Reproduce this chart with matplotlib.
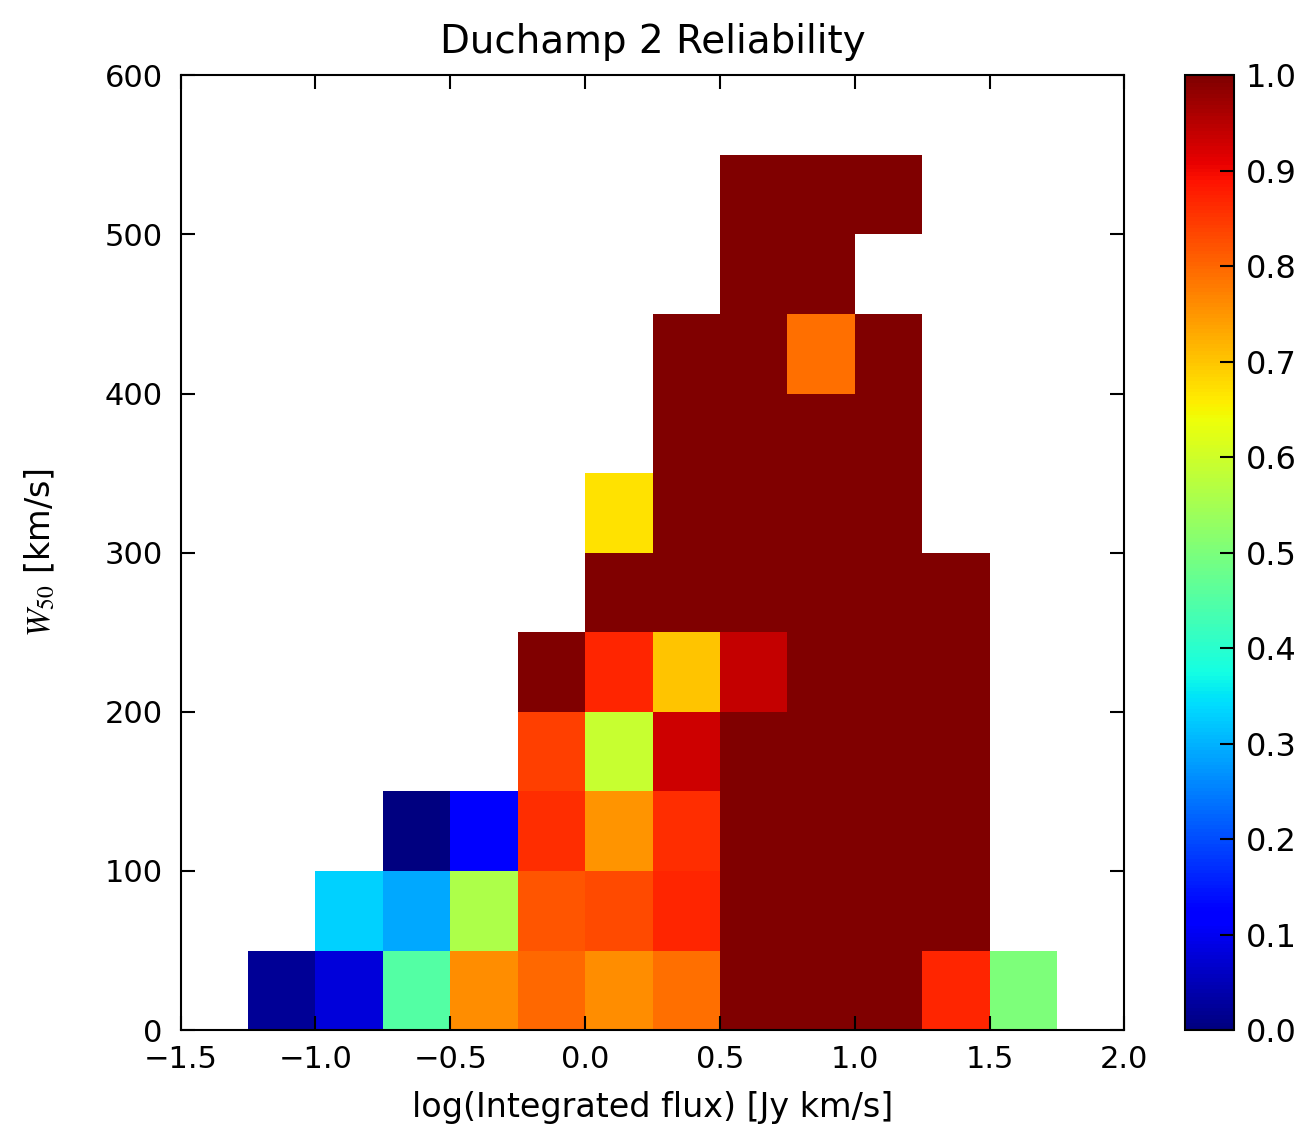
import numpy as np
import matplotlib
matplotlib.use("Agg")
import matplotlib.pyplot as plt

plt.rcParams['font.family'] = ['DejaVu Sans']
plt.rcParams['mathtext.fontset'] = 'stix'

x_edges = np.arange(-1.5, 2.0001, 0.25)   # 14 columns
y_edges = np.arange(0, 600.001, 50)       # 12 rows

nan = np.nan
# reliability per row (bottom to top), columns from x=-1.5 to 2.0
row_0_50    = [nan, 0.02, 0.08, 0.45, 0.76, 0.80, 0.76, 0.79, 1.0, 1.0, 1.0, 0.87, 0.50, nan]
row_50_100  = [nan, nan, 0.33, 0.29, 0.56, 0.82, 0.83, 0.87, 1.0, 1.0, 1.0, 1.0, nan, nan]
row_100_150 = [nan, nan, nan, 0.00, 0.11, 0.86, 0.75, 0.86, 1.0, 1.0, 1.0, 1.0, nan, nan]
row_150_200 = [nan, nan, nan, nan, nan, 0.84, 0.59, 0.93, 1.0, 1.0, 1.0, 1.0, nan, nan]
row_200_250 = [nan, nan, nan, nan, nan, 1.0, 0.87, 0.70, 0.94, 1.0, 1.0, 1.0, nan, nan]
row_250_300 = [nan, nan, nan, nan, nan, nan, 1.0, 1.0, 1.0, 1.0, 1.0, 1.0, nan, nan]
row_300_350 = [nan, nan, nan, nan, nan, nan, 0.67, 1.0, 1.0, 1.0, 1.0, nan, nan, nan]
row_350_400 = [nan, nan, nan, nan, nan, nan, nan, 1.0, 1.0, 1.0, 1.0, nan, nan, nan]
row_400_450 = [nan, nan, nan, nan, nan, nan, nan, 1.0, 1.0, 0.79, 1.0, nan, nan, nan]
row_450_500 = [nan, nan, nan, nan, nan, nan, nan, nan, 1.0, 1.0, nan, nan, nan, nan]
row_500_550 = [nan, nan, nan, nan, nan, nan, nan, nan, 1.0, 1.0, 1.0, nan, nan, nan]
row_550_600 = [nan] * 14

grid = np.array([row_0_50, row_50_100, row_100_150, row_150_200, row_200_250,
                 row_250_300, row_300_350, row_350_400, row_400_450, row_450_500,
                 row_500_550, row_550_600])
grid = np.ma.masked_invalid(grid)

fig = plt.figure(figsize=(13.09, 11.42), dpi=100)
ax = fig.add_axes([0.138, 0.098, 0.721, 0.836])
cax = fig.add_axes([0.905, 0.098, 0.038, 0.836])

mesh = ax.pcolormesh(x_edges, y_edges, grid, cmap='jet', vmin=0, vmax=1)
ax.set_xlim(-1.5, 2.0)
ax.set_ylim(0, 600)
ax.set_xticks(np.arange(-1.5, 2.01, 0.5))
ax.set_yticks(np.arange(0, 601, 100))
ax.tick_params(direction='in', top=True, right=True, length=10, width=1.5,
               labelsize=22)
ax.tick_params(axis='x', pad=11)
ax.tick_params(axis='y', pad=13)
for s in ax.spines.values():
    s.set_linewidth(1.5)
ax.set_title('Duchamp 2 Reliability', fontsize=28, pad=16)
ax.set_xlabel('log(Integrated flux) [Jy km/s]', fontsize=24, labelpad=12)
ax.set_ylabel(r'$W_{50}$ [km/s]', fontsize=24, labelpad=34)

cb = fig.colorbar(mesh, cax=cax, ticks=np.arange(0, 1.01, 0.1))
cb.ax.tick_params(direction='in', length=10, width=1.5, labelsize=23, pad=8)
cb.ax.set_yticklabels([f'{v:.1f}' for v in np.arange(0, 1.01, 0.1)])
cb.outline.set_linewidth(1.5)

fig.savefig('out.png', dpi=100)
